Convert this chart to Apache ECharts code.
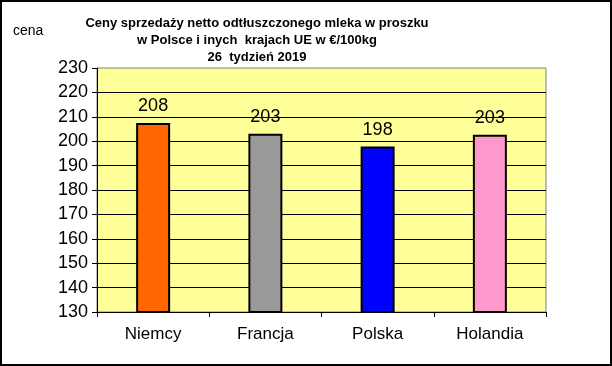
<!DOCTYPE html>
<html><head><meta charset="utf-8">
<script src="https://cdn.jsdelivr.net/npm/echarts@6/dist/echarts.min.js"></script>
<style>html,body{margin:0;padding:0;background:#fff}#c{width:612px;height:366px}</style>
</head><body><div id="c"></div>
<script>
const categories = ['Niemcy', 'Francja', 'Polska', 'Holandia'];
const prices = [207.5, 203.1, 197.8, 202.6];
const barColors = ['#FF6600', '#999999', '#0000FF', '#FF99CC'];
const titleLines = ['Ceny sprzedaży netto odtłuszczonego mleka w proszku', 'w Polsce i inych  krajach UE w €/100kg', '26  tydzień 2019'];
const yMin = 130, yMax = 230, yStep = 10;

const chart = echarts.init(document.getElementById('c'));
chart.setOption({
  animation: false,
  textStyle: { fontFamily: 'Liberation Sans, Arial, sans-serif' },
  title: {
    text: titleLines.join('\n'),
    left: 252, top: 10, textAlign: 'center',
    textStyle: { fontSize: 13, fontWeight: 'bold', color: '#000', lineHeight: 17, fontFamily: 'Liberation Sans, Arial, sans-serif' }
  },
  graphic: [
    { type: 'rect', shape: { x: 1, y: 1, width: 610, height: 364 }, style: { fill: 'none', stroke: '#000', lineWidth: 2 }, z: 100 },
    { type: 'text', left: 13, top: 24, style: { text: 'cena', fontSize: 14, fill: '#000', fontFamily: 'Liberation Sans, Arial, sans-serif' } }
  ],
  grid: { left: 97, right: 66, top: 68, bottom: 54, show: true, backgroundColor: '#FFFF99', borderColor: '#808080', borderWidth: 1 },
  xAxis: {
    type: 'category', data: categories,
    axisLine: { lineStyle: { color: '#000', width: 1 } },
    axisTick: { show: true, length: 5, alignWithLabel: false, lineStyle: { color: '#000' } },
    axisLabel: { fontSize: 17, color: '#000', margin: 14 }
  },
  yAxis: {
    type: 'value', min: yMin, max: yMax, interval: yStep,
    axisLine: { show: true, lineStyle: { color: '#000', width: 1 } },
    axisTick: { show: true, length: 5, lineStyle: { color: '#000' } },
    axisLabel: { fontSize: 18, color: '#000', margin: 9 },
    splitLine: { show: true, showMaxLine: false, lineStyle: { color: '#000', width: 1 } }
  },
  series: [{
    type: 'bar',
    barWidth: 34,
    data: prices.map((v, i) => ({ value: v, itemStyle: { color: barColors[i] } })),
    itemStyle: { borderColor: '#000', borderWidth: 2 },
    label: { show: true, position: 'top', distance: 8, fontSize: 18, color: '#000', formatter: p => Math.round(p.value) }
  }]
});
</script></body></html>
